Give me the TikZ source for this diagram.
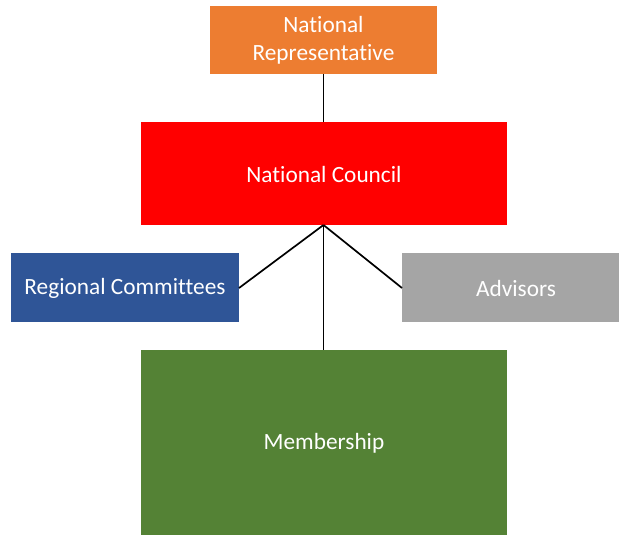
\documentclass[tikz,border=0pt]{standalone}
\usepackage{fontspec}
\setmainfont[Ligatures=NoCommon]{Carlito}
\definecolor{cOrange}{HTML}{ED7D31}
\definecolor{cRed}{HTML}{FF0000}
\definecolor{cBlue}{HTML}{2F5597}
\definecolor{cGray}{HTML}{A5A5A5}
\definecolor{cGreen}{HTML}{548235}
\begin{document}
\begin{tikzpicture}[x=1pt,y=-1pt,
  box/.style={draw=none,text=white,font=\fontsize{23.3}{28}\selectfont,align=center,inner sep=0pt},
  conn/.style={draw=black,line width=1.7pt}]
\useasboundingbox (0,0) rectangle (619,535);
\fill[cOrange] (210,6) rectangle (437,74);
\node[box] (rep) at (323.5,40) {National\\Representative};
\coordinate (repB) at (323.5,74);
\fill[cRed] (141,122) rectangle (507,225);
\node[box] (council) at (324,174) {National Council};
\coordinate (councilT) at (323.5,122);
\coordinate (councilB) at (323.5,225);
\fill[cBlue] (11,253) rectangle (239,322);
\node[box] (reg) at (125,288) {Regional Committees};
\coordinate (regR) at (239,288);
\fill[cGray] (402,253) rectangle (619,322);
\node[box] (adv) at (516,288) {Advisors};
\coordinate (advL) at (402,288);
\fill[cGreen] (141,350) rectangle (507,535);
\node[box] (mem) at (324,443) {Membership};
\coordinate (memT) at (323.5,350);
\draw[conn] (repB) -- (councilT);
\draw[conn] (councilB) -- (regR);
\draw[conn] (councilB) -- (advL);
\draw[conn] (councilB) -- (memT);
\end{tikzpicture}
\end{document}
